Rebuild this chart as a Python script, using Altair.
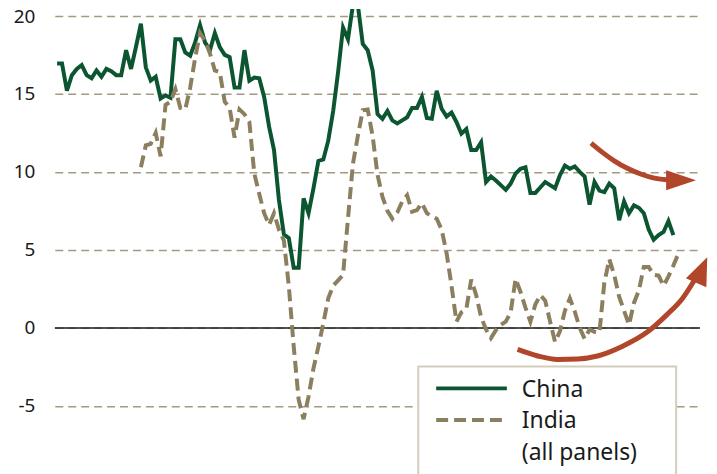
import altair as alt
import pandas as pd

# ---- data (monthly, index = month number) ----
china = [16.95, 16.95, 15.2, 16.2, 16.6, 16.85, 16.2, 16.0, 16.5, 16.1,
         16.6, 16.45, 16.2, 16.2, 17.8, 16.6, 18.0, 19.5, 16.7, 15.85,
         16.1, 14.7, 14.9, 14.75, 18.5, 18.5, 17.65, 17.45, 18.3, 19.4,
         18.3, 17.8, 18.9, 18.0, 17.5, 17.35, 15.4, 15.4, 17.8, 15.85,
         16.05, 16.0, 14.8, 12.9, 11.4, 8.2, 6.0, 5.75, 3.85, 3.85,
         8.3, 7.35, 8.95, 10.7, 10.8, 12.0, 13.9, 16.4, 19.25, 18.5,
         20.7, 20.7, 18.2, 17.8, 16.5, 13.7, 13.4, 13.9, 13.3, 13.1,
         13.3, 13.5, 14.1, 14.1, 14.8, 13.45, 13.4, 15.2, 14.05, 13.55,
         13.8, 13.2, 12.45, 12.75, 11.4, 11.4, 11.9, 9.35, 9.7, 9.45,
         9.15, 8.85, 9.25, 9.9, 10.2, 10.3, 8.65, 8.65, 9.0, 9.35,
         9.15, 8.95, 9.8, 10.4, 10.2, 10.35, 10.0, 9.7, 7.9, 9.35,
         8.8, 8.7, 9.25, 8.95, 6.9, 8.1, 7.35, 7.85, 7.7, 7.35,
         6.3, 5.65, 5.95, 6.15, 6.85, 5.95]

india_start = 17
india = [10.3, 11.7, 11.8, 12.5, 11.0, 14.3, 14.5, 15.3, 14.1, 14.0,
         15.4, 17.3, 18.9, 18.4, 17.6, 16.5, 16.4, 14.5, 14.1, 12.2,
         14.0, 13.7, 13.2, 9.9, 8.6, 7.35, 6.6, 7.35, 6.3, 5.6,
         2.7, -1.2, -4.6, -5.85, -4.4, -2.6, -1.2, 0.3, 1.9, 2.7,
         3.05, 3.4, 7.0, 10.5, 12.3, 13.95, 14.0, 12.3, 9.8, 8.4,
         7.5, 7.0, 7.4, 8.1, 8.5, 7.45, 7.55, 8.0, 7.35, 7.15,
         7.0, 6.3, 4.8, 2.7, 0.4, 1.0, 1.2, 3.1, 2.1, 0.7,
         -0.1, -0.65, -0.15, 0.2, 0.4, 1.0, 3.15, 2.3, 1.3, 0.4,
         1.5, 2.1, 1.75, 0.4, -0.9, -0.2, 1.1, 1.9, 1.05, 0.0,
         -0.7, -0.1, -0.25, -0.3, 2.9, 4.4, 3.4, 2.0, 1.1, 0.2,
         1.6, 2.4, 3.9, 3.9, 3.4, 3.35, 2.7, 3.3, 4.0, 4.75]

y_ticks = [-5, 0, 5, 10, 15, 20]
legend_labels = ["China", "India", "(all panels)"]

# annotation arrows (in month / value units)
upper_arrow_x = [108.3, 110.6, 113.0, 115.65, 118.5, 120.9, 123.7]
upper_arrow_y = [11.84, 11.25, 10.71, 10.23, 9.85, 9.62, 9.50]
upper_head = (126.56, 9.46)
lower_arrow_x = [93.4, 97.5, 101.5, 105.6, 109.6, 114.6, 119.7, 123.7, 126.8, 129.2]
lower_arrow_y = [-1.38, -1.80, -2.02, -1.99, -1.80, -1.19, -0.27, 0.85, 1.87, 3.02]
lower_head = (130.74, 3.71)

GREEN = "#0b5631"
TAN = "#8c7f5f"
GRID = "#a39a80"
RUST = "#b1462a"
TEXT = "#1a1a1a"
FONT = "Noto Sans"

df_china = pd.DataFrame({"month": list(range(len(china))), "value": china})
df_india = pd.DataFrame({"month": [india_start + i for i in range(len(india))], "value": india})

x_scale = alt.Scale(domain=[-0.46, 129.8], nice=False, zero=False)
y_scale = alt.Scale(domain=[-9.3, 20.44], nice=False, zero=False)
y_axis = alt.Axis(values=y_ticks, grid=True, gridDash=[8, 5], gridColor=GRID,
                  gridWidth=1.5, ticks=False, domain=False, labelFontSize=19,
                  labelFont=FONT, labelColor=TEXT, labelPadding=20,
                  labelOffset={"condition": {"test": "datum.value == 20", "value": 1},
                               "value": 0},
                  labelExpr="'' + datum.value", title=None)

def X():
    return alt.X("month:Q", scale=x_scale, axis=None)

def Y():
    return alt.Y("value:Q", scale=y_scale, axis=y_axis)

one = pd.DataFrame({"value": [0]})

zero_line = alt.Chart(one).mark_rule(color=TEXT, strokeWidth=1.5, clip=False).encode(
    y=Y(), x=alt.value(0), x2=alt.value(648))

india_line = alt.Chart(df_india).mark_line(color=TAN, strokeWidth=4, strokeDash=[12, 6],
                                           clip=True).encode(x=X(), y=Y())
china_line = alt.Chart(df_china).mark_line(color=GREEN, strokeWidth=4, clip=True).encode(
    x=X(), y=Y())

up_df = pd.DataFrame({"month": upper_arrow_x, "value": upper_arrow_y})
lo_df = pd.DataFrame({"month": lower_arrow_x, "value": lower_arrow_y})
up_line = alt.Chart(up_df).mark_line(color=RUST, strokeWidth=5, interpolate="monotone",
                                     clip=False).encode(x=X(), y=Y())
lo_line = alt.Chart(lo_df).mark_line(color=RUST, strokeWidth=5, interpolate="monotone",
                                     clip=False).encode(x=X(), y=Y())
up_head = alt.Chart(pd.DataFrame({"month": [upper_head[0]], "value": [upper_head[1]]})).mark_point(
    shape="M1,0L-1,-0.667L-1,0.667Z", filled=True, fill=RUST, opacity=1, size=900,
    strokeWidth=0, clip=False).encode(x=X(), y=Y())
lo_head = alt.Chart(pd.DataFrame({"month": [lower_head[0]], "value": [lower_head[1]]})).mark_point(
    shape="M0,-1L0.8,1L-0.8,1Z", filled=True, fill=RUST, opacity=1, size=784, angle=23.5,
    strokeWidth=0, clip=False).encode(x=X(), y=Y())

# ---- legend box ----
legend_box = alt.Chart(one).mark_rect(fill="white", stroke="#d4cdbb", strokeWidth=2,
                                      clip=False).encode(
    x=alt.value(365), x2=alt.value(624), y=alt.value(359), y2=alt.value(480))
leg_china = alt.Chart(one).mark_rule(color=GREEN, strokeWidth=4).encode(
    x=alt.value(383), x2=alt.value(454), y=alt.value(381))
leg_india = alt.Chart(one).mark_rule(color=TAN, strokeWidth=4, strokeDash=[12, 6]).encode(
    x=alt.value(383), x2=alt.value(454), y=alt.value(412.7))
leg_texts = [
    alt.Chart(one).mark_text(align="left", baseline="alphabetic", font=FONT, fontSize=23,
                             color=TEXT).encode(
        x=alt.value(469), y=alt.value(389.3 + 31.6 * i), text=alt.value(lbl))
    for i, lbl in enumerate(legend_labels)
]

chart = alt.layer(
    zero_line, china_line, india_line, up_line, up_head, lo_line, lo_head,
    legend_box, leg_china, leg_india, *leg_texts
).properties(
    width=645, height=466,
    padding={"left": 47, "top": 0, "right": 12, "bottom": 0},
    autosize=alt.AutoSizeParams(type="none"),
    background="white",
).configure_view(stroke=None)

chart.save("out.html", embed_options={"renderer": "svg", "actions": False})
